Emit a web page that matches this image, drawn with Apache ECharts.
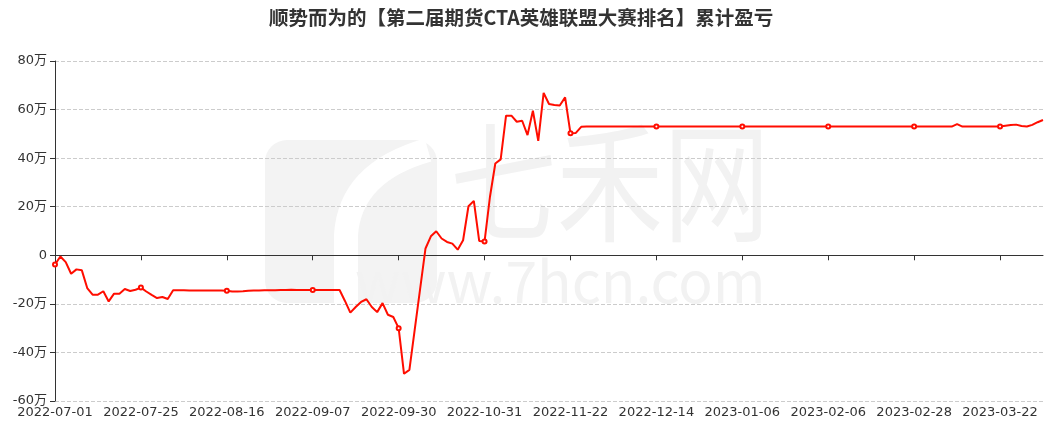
<!DOCTYPE html>
<html>
<head>
<meta charset="utf-8">
<script src="https://cdn.jsdelivr.net/npm/echarts@6/dist/echarts.min.js"></script>
<style>
html,body{margin:0;padding:0;background:#fff;}
#chart{width:1052px;height:430px;}
</style>
</head>
<body>
<div id="chart"></div>
<script>
var titleText = '顺势而为的【第二届期货CTA英雄联盟大赛排名】累计盈亏';

var dates = [
'2022-07-01','2022-07-04','2022-07-05','2022-07-06','2022-07-07','2022-07-08','2022-07-11','2022-07-12','2022-07-13','2022-07-14','2022-07-15',
'2022-07-18','2022-07-19','2022-07-20','2022-07-21','2022-07-22','2022-07-25','2022-07-26','2022-07-27','2022-07-28','2022-07-29',
'2022-08-01','2022-08-02','2022-08-03','2022-08-04','2022-08-05','2022-08-08','2022-08-09','2022-08-10','2022-08-11','2022-08-12',
'2022-08-15','2022-08-16','2022-08-17','2022-08-18','2022-08-19','2022-08-22','2022-08-23','2022-08-24','2022-08-25','2022-08-26',
'2022-08-29','2022-08-30','2022-08-31',
'2022-09-01','2022-09-02','2022-09-05','2022-09-06','2022-09-07','2022-09-08','2022-09-09','2022-09-13','2022-09-14','2022-09-15','2022-09-16',
'2022-09-19','2022-09-20','2022-09-21','2022-09-22','2022-09-23','2022-09-26','2022-09-27','2022-09-28','2022-09-29','2022-09-30',
'2022-10-10','2022-10-11','2022-10-12','2022-10-13','2022-10-14','2022-10-17','2022-10-18','2022-10-19','2022-10-20','2022-10-21',
'2022-10-24','2022-10-25','2022-10-26','2022-10-27','2022-10-28','2022-10-31',
'2022-11-01','2022-11-02','2022-11-03','2022-11-04','2022-11-07','2022-11-08','2022-11-09','2022-11-10','2022-11-11',
'2022-11-14','2022-11-15','2022-11-16','2022-11-17','2022-11-18','2022-11-21','2022-11-22','2022-11-23','2022-11-24','2022-11-25',
'2022-11-28','2022-11-29','2022-11-30',
'2022-12-01','2022-12-02','2022-12-05','2022-12-06','2022-12-07','2022-12-08','2022-12-09','2022-12-12','2022-12-13','2022-12-14','2022-12-15','2022-12-16',
'2022-12-19','2022-12-20','2022-12-21','2022-12-22','2022-12-23','2022-12-26','2022-12-27','2022-12-28','2022-12-29','2022-12-30',
'2023-01-03','2023-01-04','2023-01-05','2023-01-06','2023-01-09','2023-01-10','2023-01-11','2023-01-12','2023-01-13',
'2023-01-16','2023-01-17','2023-01-18','2023-01-19','2023-01-20','2023-01-30','2023-01-31',
'2023-02-01','2023-02-02','2023-02-03','2023-02-06','2023-02-07','2023-02-08','2023-02-09','2023-02-10','2023-02-13','2023-02-14','2023-02-15','2023-02-16','2023-02-17',
'2023-02-20','2023-02-21','2023-02-22','2023-02-23','2023-02-24','2023-02-27','2023-02-28',
'2023-03-01','2023-03-02','2023-03-03','2023-03-06','2023-03-07','2023-03-08','2023-03-09','2023-03-10','2023-03-13','2023-03-14','2023-03-15','2023-03-16','2023-03-17',
'2023-03-20','2023-03-21','2023-03-22','2023-03-23','2023-03-24','2023-03-27','2023-03-28','2023-03-29','2023-03-30','2023-03-31',
'2023-04-03'
];

// cumulative profit/loss, unit: 万
var pnl = [
-3.8,-0.5,-2.8,-7.6,-5.8,-6.2,-13.5,-16.2,-16.2,-14.8,-19,
-15.8,-15.8,-13.9,-14.7,-14.2,-13.3,-14.9,-16.3,-17.6,-17.2,
-18,-14.4,-14.4,-14.4,-14.5,-14.5,-14.5,-14.5,-14.5,-14.5,
-14.5,-14.6,-14.9,-14.9,-14.8,-14.6,-14.5,-14.5,-14.4,-14.4,
-14.4,-14.3,-14.3,
-14.2,-14.3,-14.3,-14.3,-14.3,-14.3,-14.3,-14.3,-14.3,-14.3,-18.8,
-23.6,-21.3,-19.2,-18.1,-21.3,-23.4,-19.7,-24.5,-25.4,-30.0,
-48.8,-47.2,-30.5,-13.8,2.8,7.8,9.9,6.9,5.5,4.8,
2.3,6.2,20.2,22.4,5.9,5.7,
24,37.8,39.5,57.5,57.5,55,55.4,49.5,59.5,
47.1,66.9,62.3,61.9,61.7,65,50.2,50.4,52.9,53,
53,53,53,
53,53,53,53,53,53,53,53,53,53,53,53,
53,53,53,53,53,53,53,53,53,53,
53,53,53,53,53,53,53,53,53,
53,53,53,53,53,53,53,
53,53,53,53,53,53,53,53,53,53,53,53,53,
53,53,53,53,53,53,53,
53,53,53,53,53,53,53,54,53,53,53,53,53,
53,53,53,53.3,53.6,53.8,53.2,53.0,53.7,54.8,
55.7
];

var yMin = -60, yMax = 80, yStep = 20;
var unitLabel = '万';
var watermarkCn = '七禾网';
var watermarkUrl = 'www.7hcn.com';

var chart = echarts.init(document.getElementById('chart'), null, {renderer: 'canvas'});
var cjkFont = "'Microsoft YaHei','Noto Sans CJK SC','Noto Sans',sans-serif";
var lblFont = "'DejaVu Sans','Noto Sans CJK SC',sans-serif";

chart.setOption({
  animation: false,
  backgroundColor: '#ffffff',
  title: {
    text: titleText,
    left: 264,
    top: 3,
    textStyle: {fontSize: 19.5, fontWeight: 'bold', color: '#333', fontFamily: cjkFont}
  },
  graphic: [
    {type: 'rect', z: -12, shape: {x: 265, y: 140, width: 172, height: 163, r: 22}, style: {fill: '#f3f3f3'}},
    {type: 'bezierCurve', z: -11, shape: {x1: 428, y1: 150, cpx1: 350, cpy1: 172, x2: 346, y2: 235}, style: {fill: null, stroke: '#ffffff', lineWidth: 24}},
    {type: 'line', z: -11, shape: {x1: 346, y1: 234, x2: 346, y2: 312}, style: {stroke: '#ffffff', lineWidth: 24}},
    {type: 'text', z: -10, left: 450, top: 117, scaleX: 0.82, style: {text: watermarkCn, fill: '#f2f2f2', font: '130px ' + cjkFont}},
    {type: 'text', z: -10, left: 355, top: 253, style: {text: watermarkUrl, fill: '#f2f2f2', font: '57px ' + cjkFont}}
  ],
  grid: {left: 55, right: 9, top: 61, bottom: 29, containLabel: false},
  xAxis: [
    {
      type: 'category',
      data: dates,
      boundaryGap: false,
      position: 'bottom',
      axisLine: {show: false, onZero: false},
      axisTick: {show: false},
      axisLabel: {interval: 15, color: '#333', fontSize: 13, margin: 5, fontFamily: lblFont},
      splitLine: {show: false}
    },
    {
      type: 'category',
      data: dates,
      boundaryGap: false,
      position: 'bottom',
      axisLine: {show: true, onZero: true, lineStyle: {color: '#333', width: 1}},
      axisTick: {show: true, interval: 15, length: 5, lineStyle: {color: '#333'}},
      axisLabel: {show: false, interval: 15},
      splitLine: {show: false}
    }
  ],
  yAxis: {
    type: 'value',
    min: yMin,
    max: yMax,
    interval: yStep,
    axisLine: {show: true, lineStyle: {color: '#333'}},
    axisTick: {show: true, length: 5, lineStyle: {color: '#333'}},
    axisLabel: {
      color: '#333', fontSize: 13, margin: 8, fontFamily: lblFont,
      formatter: function (v) { return v === 0 ? '0' : v + unitLabel; }
    },
    splitLine: {show: true, lineStyle: {color: '#ccc', type: 'dashed'}}
  },
  series: [{
    type: 'line',
    xAxisIndex: 0,
    data: pnl,
    symbol: 'emptyCircle',
    symbolSize: 4,
    showAllSymbol: 'auto',
    lineStyle: {color: '#ff0d00', width: 2},
    itemStyle: {color: '#ff0d00', borderWidth: 1}
  }]
});
</script>
</body>
</html>
